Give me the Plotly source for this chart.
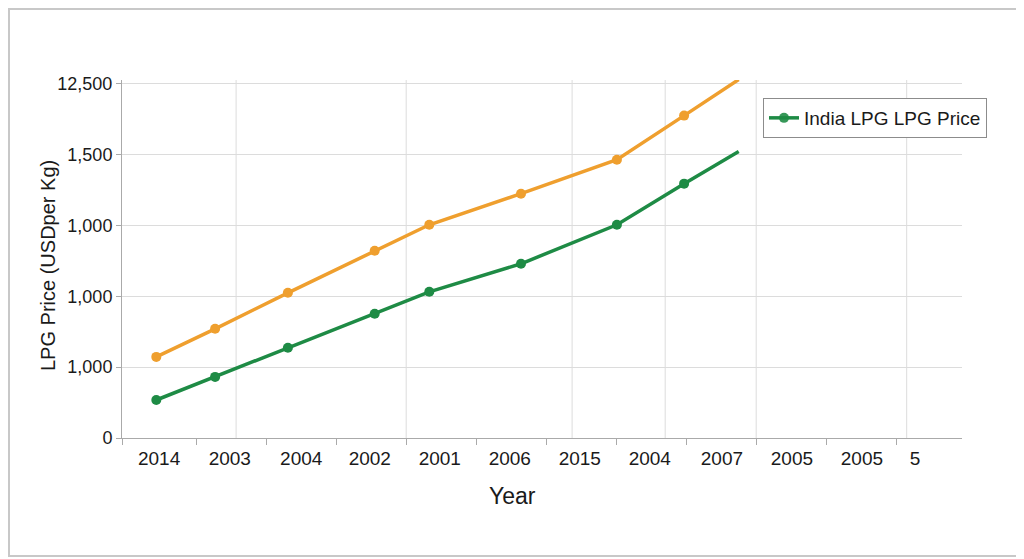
#!/usr/bin/env python3

import plotly.graph_objs as go

# category labels along the x axis (as printed in the chart)
year_labels = ['2014', '2003', '2004', '2002', '2001', '2006',
               '2015', '2004', '2007', '2005', '2005', '5']

# y tick labels (as printed in the chart)
price_tick_vals = [0, 500, 1000, 1500, 2000, 2500]
price_tick_text = ['0', '1,000', '1,000', '1,000', '1,500', '12,500']

# point positions along the category axis
point_pos = [0.49, 1.33, 2.37, 3.61, 4.39, 5.70, 7.07, 8.03, 8.81]

# series values
orange_price = [572, 770, 1024, 1321, 1504, 1723, 1963, 2274, 2528]
green_price = [268, 431, 636, 876, 1031, 1229, 1504, 1794, 2020]

# where labels, boundary ticks and vertical grid lines sit in the original
label_pos = [0.53, 1.54, 2.56, 3.54, 4.54, 5.54, 6.54, 7.54, 8.57, 9.57, 10.57, 11.33]
bound_pos = [0] + [k + 0.06 for k in range(1, 12)]
vgrid_pos = [1.63, 4.06, 6.43, 7.76, 9.06, 11.21]

ORANGE = '#EF9F2E'
GREEN = '#1E8B45'
GRID = '#DCDCDC'
AXIS = '#AAAAAA'
FONT = 'Liberation Sans, Arial, sans-serif'

n_cat = len(year_labels)
# the page adds 8px body margin, so the figure is a bit smaller than the window
W, H = 1016, 551
ml, mr, mt, mb = 114, 62, 72, 121
pw, ph = W - ml - mr, H - mt - mb

fig = go.Figure()

# orange series: no marker on the last point, not in legend
fig.add_scatter(x=point_pos, y=orange_price,
                mode='lines+markers',
                line={'color': ORANGE, 'width': 3.5},
                marker={'color': ORANGE, 'size': 10,
                        'opacity': [1] * (len(point_pos) - 1) + [0]},
                showlegend=False,
                name='orange')

fig.add_scatter(x=point_pos, y=green_price,
                mode='lines+markers',
                line={'color': GREEN, 'width': 3.5},
                marker={'color': GREEN, 'size': 10,
                        'opacity': [1] * (len(point_pos) - 1) + [0]},
                name='India LPG LPG Price')

# irregular vertical grid lines
for gx in vgrid_pos:
    fig.add_shape(type='line', xref='x', yref='paper',
                  x0=gx, x1=gx, y0=0, y1=1,
                  line={'color': GRID, 'width': 1}, layer='below')

# outer frame of the picture
fig.add_shape(type='rect', xref='paper', yref='paper',
              x0=(1 - ml) / pw, x1=(W - 3 - ml) / pw,
              y0=-(mb - 3) / ph, y1=1 + (mt - 1) / ph,
              line={'color': '#C8C8C8', 'width': 2})

# axis titles
fig.add_annotation(text='LPG Price (USDper Kg)', xref='paper', yref='paper',
                   x=(48 - 122) / pw, y=(438 - 266) / ph,
                   xanchor='center', yanchor='middle',
                   textangle=-90, showarrow=False,
                   font={'size': 20})
fig.add_annotation(text='Year', xref='paper', yref='paper',
                   x=(512 - 122) / pw, y=(438 - 496) / ph,
                   xanchor='center', yanchor='middle',
                   showarrow=False, font={'size': 23})

fig.update_layout(
    width=W, height=H,
    margin={'l': ml, 'r': mr, 't': mt, 'b': mb},
    paper_bgcolor='white',
    plot_bgcolor='white',
    font={'family': FONT, 'color': '#1A1A1A', 'size': 18},
    xaxis={'range': [0, n_cat],
           'tickvals': label_pos,
           'ticktext': year_labels,
           'ticks': '',
           'ticklabelstandoff': 3,
           'showgrid': False,
           'zeroline': False,
           'showline': True,
           'linecolor': AXIS,
           'tickfont': {'size': 19},
           'minor': {'tickvals': bound_pos,
                     'ticks': 'outside', 'ticklen': 6,
                     'tickcolor': AXIS, 'showgrid': False}},
    yaxis={'range': [0, 2525],
           'tickvals': price_tick_vals,
           'ticktext': price_tick_text,
           'ticks': 'outside', 'ticklen': 5, 'tickcolor': AXIS,
           'showgrid': True, 'gridcolor': GRID,
           'zeroline': False,
           'showline': True,
           'linecolor': AXIS,
           'tickfont': {'size': 18}},
    legend={'x': (763 - 122) / pw, 'y': (438 - 98) / ph,
            'xanchor': 'left', 'yanchor': 'top',
            'bgcolor': 'white',
            'bordercolor': '#8C8C8C', 'borderwidth': 1,
            'font': {'size': 19},
            'itemwidth': 30},
)

fig.write_html('out.html')
